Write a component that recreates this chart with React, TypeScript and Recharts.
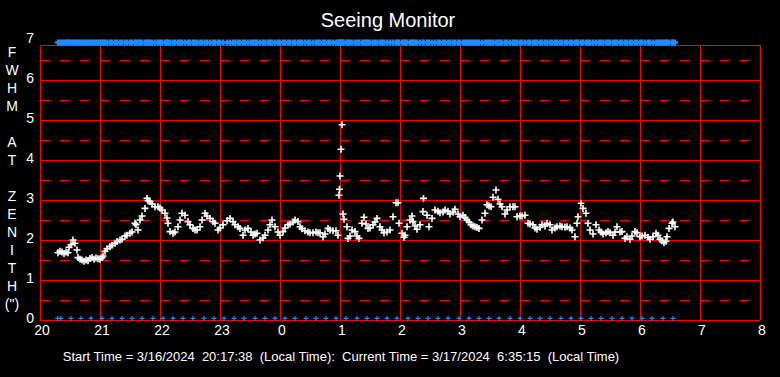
import { ReferenceLine, Scatter, ScatterChart, XAxis, YAxis } from 'recharts';

// minutes after 20:00 local time, and the seeing (FWHM at zenith, arcsec)
const fwhmMinutes = [
  18, 20, 22, 24, 26, 28, 29, 31, 33, 35, 37, 38, 40, 42, 44, 46, 48, 50, 52, 54, 56, 58, 60, 62, 63, 65, 67, 70, 72, 75,
  77, 80, 82, 85, 87, 90, 92, 95, 96, 98, 100, 102, 105, 107, 108, 110, 112, 115, 118, 120, 122, 125, 127, 128, 130, 133,
  135, 138, 140, 142, 145, 148, 150, 153, 155, 157, 160, 162, 165, 167, 170, 173, 175, 178, 180, 183, 187, 190, 193, 195,
  198, 200, 203, 205, 208, 211, 213, 215, 217, 220, 223, 225, 228, 230, 232, 235, 238, 240, 243, 245, 248, 250, 253, 255,
  258, 260, 262, 265, 268, 270, 273, 276, 278, 280, 283, 285, 288, 290, 293, 296, 298, 299, 299.5, 300, 301, 302, 303, 304,
  307, 308, 310, 312, 315, 317, 319, 322, 324, 326, 328, 330, 333, 335, 337, 340, 342, 344, 347, 350, 353, 356, 358, 359,
  362, 364, 365, 367, 370, 372, 373, 375, 377, 380, 383, 383.5, 387, 389, 392, 395, 398, 400, 403, 405, 408, 410, 413, 415,
  418, 420, 423, 425, 427, 429, 431, 433, 435, 437, 439, 442, 445, 447, 449, 451, 453, 456, 458, 460, 462, 465, 467, 470,
  473, 475, 477, 480, 482, 485, 488, 490, 493, 495, 497, 500, 502, 505, 507, 510, 512, 515, 517, 520, 522, 525, 527, 530,
  532, 535, 537, 538, 541, 543, 546, 548, 550, 553, 556, 559, 561, 563, 566, 568, 570, 573, 575, 577, 580, 582, 585, 587,
  590, 592, 595, 597, 600, 602, 605, 608, 610, 613, 616, 618, 620, 622, 624, 626, 627, 629, 632, 633, 635,
];
const fwhmValues = [
  1.68, 1.72, 1.7, 1.66, 1.7, 1.68, 1.82, 1.88, 2.0, 1.92, 1.75, 1.56, 1.52, 1.5, 1.47, 1.5, 1.48, 1.54, 1.56, 1.52, 1.55,
  1.53, 1.52, 1.56, 1.6, 1.72, 1.78, 1.83, 1.87, 1.92, 1.96, 2.0, 2.02, 2.1, 2.12, 2.17, 2.2, 2.42, 2.38, 2.25, 2.5, 2.6,
  2.79, 3.04, 2.98, 2.96, 2.9, 2.83, 2.83, 2.8, 2.75, 2.67, 2.55, 2.42, 2.21, 2.17, 2.2, 2.33, 2.5, 2.67, 2.62, 2.46, 2.38,
  2.29, 2.25, 2.25, 2.33, 2.5, 2.67, 2.6, 2.54, 2.46, 2.42, 2.25, 2.3, 2.38, 2.48, 2.54, 2.46, 2.38, 2.33, 2.29, 2.12, 2.25,
  2.29, 2.2, 2.12, 2.15, 2.17, 2.0, 2.05, 2.12, 2.25, 2.38, 2.5, 2.33, 2.2, 2.12, 2.21, 2.3, 2.38, 2.4, 2.45, 2.5, 2.46, 2.33,
  2.28, 2.23, 2.2, 2.18, 2.18, 2.2, 2.18, 2.18, 2.08, 2.15, 2.29, 2.25, 2.23, 2.23, 2.12, 3.12, 3.27, 3.6, 4.27, 4.88, 2.65,
  2.52, 2.33, 2.04, 2.1, 2.25, 2.21, 2.1, 2.04, 2.42, 2.57, 2.4, 2.29, 2.3, 2.38, 2.45, 2.54, 2.33, 2.25, 2.18, 2.2, 2.25,
  2.58, 2.93, 2.93, 2.42, 2.17, 2.07, 2.12, 2.33, 2.5, 2.6, 2.46, 2.35, 2.27, 2.38, 2.71, 3.04, 2.62, 2.33, 2.54, 2.75, 2.72,
  2.68, 2.7, 2.75, 2.72, 2.65, 2.7, 2.77, 2.65, 2.58, 2.62, 2.56, 2.5, 2.45, 2.38, 2.35, 2.33, 2.31, 2.29, 2.5, 2.67, 2.88,
  2.85, 2.83, 3.07, 3.25, 3.02, 2.9, 2.83, 2.65, 2.75, 2.83, 2.83, 2.83, 2.58, 2.6, 2.6, 2.62, 2.42, 2.4, 2.38, 2.3, 2.27,
  2.32, 2.38, 2.35, 2.42, 2.38, 2.25, 2.3, 2.33, 2.35, 2.33, 2.32, 2.33, 2.3, 2.25, 2.08, 2.42, 2.58, 2.92, 2.79, 2.67, 2.42,
  2.25, 2.15, 2.38, 2.25, 2.2, 2.15, 2.18, 2.21, 2.18, 2.12, 2.2, 2.33, 2.2, 2.21, 2.04, 2.08, 2.02, 2.1, 2.21, 2.18, 2.08,
  2.1, 2.12, 2.07, 2.02, 2.08, 2.17, 2.12, 2.02, 1.98, 1.93, 1.97, 2.08, 2.29, 2.42, 2.45, 2.33,
];
// blue status marks along the bottom
const bottomMinutes = [
  17.6, 20.7, 31, 41, 51, 62, 72, 82, 92, 102, 113, 123, 133, 143, 153, 164, 174, 184, 194, 204, 215, 225, 235, 245, 255,
  266, 276, 286, 296, 306, 317, 327, 337, 347, 357, 368, 378, 388, 398, 408, 419, 429, 439, 449, 459, 470, 480, 490, 500,
  510, 521, 531, 541, 551, 561, 572, 582, 592, 602, 612, 623, 633,
];
const hourTicks = [0, 60, 120, 180, 240, 300, 360, 420, 480, 540, 600, 660, 720];
const fwhmTicks = [0, 1, 2, 3, 4, 5, 6, 7];
const halfLines = [0.5, 1.5, 2.5, 3.5, 4.5, 5.5, 6.5];
const sideLabel = ['F', 'W', 'H', 'M', '', 'A', 'T', '', 'Z', 'E', 'N', 'I', 'T', 'H', '(")'];

const TOP_FLAG = 6.94;
const BOTTOM_FLAG = 0.04;
const FRAME_TOP = 6.875;
const FONT = '"Liberation Sans", Arial, sans-serif';
const RED = '#ff0000';

const seeing = fwhmMinutes.map((m, i) => ({ m, v: fwhmValues[i] }));
const topFlags = fwhmMinutes.map((m) => ({ m, v: TOP_FLAG }));
const bottomFlags = bottomMinutes.map((m) => ({ m, v: BOTTOM_FLAG }));

const plus = (color: string, r: number, w: number) => (p: any) => (
  <path
    d={`M${p.cx - r},${p.cy}H${p.cx + r}M${p.cx},${p.cy - r}V${p.cy + r}`}
    stroke={color}
    strokeWidth={w}
    fill="none"
  />
);

const tickStyle = { fill: '#fff', fontSize: 14, fontFamily: FONT };

export default function App() {
  return (
    <div style={{ position: 'fixed', left: 0, top: 0, width: 780, height: 377, background: '#000', fontFamily: FONT }}>
      <ScatterChart width={780} height={377} margin={{ top: 40, right: 20, bottom: 37, left: 0 }}>
        <XAxis
          type="number"
          dataKey="m"
          domain={[0, 720]}
          ticks={hourTicks}
          tickFormatter={(m: number) => String((20 + m / 60) % 24)}
          axisLine={false}
          tickLine={false}
          tickSize={0}
          tickMargin={5}
          height={20}
          tick={{ ...tickStyle, dx: 2 }}
        />
        <YAxis
          type="number"
          dataKey="v"
          domain={[0, 7]}
          ticks={fwhmTicks}
          axisLine={false}
          tickLine={false}
          tickSize={0}
          tickMargin={6}
          width={40}
          tick={{ ...tickStyle, dy: -2 }}
        />
        {halfLines.map((y) => (
          <ReferenceLine key={`h${y}`} y={y} stroke={RED} strokeDasharray="10 10" shapeRendering="crispEdges" />
        ))}
        {fwhmTicks.slice(0, 7).map((y) => (
          <ReferenceLine key={`g${y}`} y={y} stroke={RED} shapeRendering="crispEdges" />
        ))}
        <ReferenceLine y={FRAME_TOP} stroke={RED} shapeRendering="crispEdges" />
        {hourTicks.map((x) => (
          <ReferenceLine
            key={`v${x}`}
            segment={[
              { x, y: 0 },
              { x, y: FRAME_TOP },
            ]}
            stroke={RED}
            shapeRendering="crispEdges"
          />
        ))}
        <Scatter data={topFlags} shape={plus('#1e8cff', 3, 2.5)} isAnimationActive={false} />
        <Scatter data={bottomFlags} shape={plus('#1e8cff', 2.5, 1.2)} isAnimationActive={false} />
        <Scatter data={seeing} shape={plus('#ffffff', 3.5, 1.6)} isAnimationActive={false} />
      </ScatterChart>
      <svg width={780} height={377} style={{ position: 'absolute', left: 0, top: 0, pointerEvents: 'none' }}>
        <text x={388} y={27} textAnchor="middle" fill="#fff" fontSize={20} fontFamily={FONT}>
          Seeing Monitor
        </text>
        {sideLabel.map((c, i) => (
          <text key={i} x={12} y={57 + i * 18} textAnchor="middle" fill="#fff" fontSize={14} fontFamily={FONT}>
            {c}
          </text>
        ))}
        <text x={341} y={361} textAnchor="middle" fill="#fff" fontSize={13} fontFamily={FONT} xmlSpace="preserve">
          Start Time = 3/16/2024  20:17:38  (Local Time):  Current Time = 3/17/2024  6:35:15  (Local Time)
        </text>
      </svg>
    </div>
  );
}
